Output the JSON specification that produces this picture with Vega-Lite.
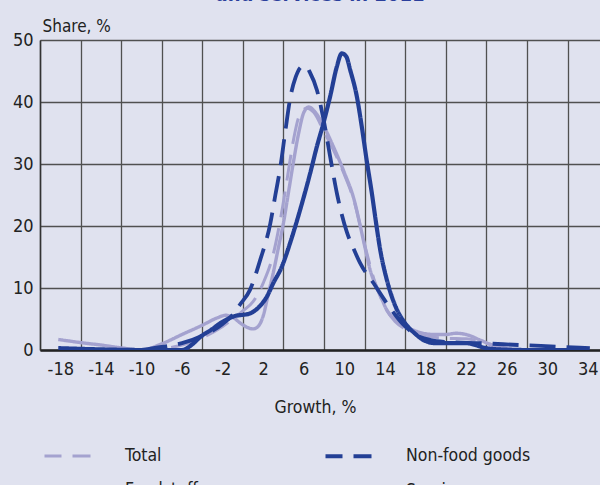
{
  "$schema": "https://vega.github.io/schema/vega-lite/v6.json",
  "width": 560,
  "height": 310,
  "autosize": {"type": "none"},
  "padding": {"left": 40, "top": 40, "right": 0, "bottom": 135},
  "background": "#e0e2ef",
  "title": {
    "text": "and services in 2011",
    "anchor": "middle",
    "fontSize": 20,
    "fontWeight": "bold",
    "color": "#2b3f9c",
    "font": "DejaVu Sans Condensed, sans-serif",
    "offset": 12
  },
  "config": {
    "view": {"stroke": null},
    "font": "DejaVu Sans Condensed, sans-serif",
    "axis": {
      "labelFont": "DejaVu Sans Condensed, sans-serif",
      "titleFont": "DejaVu Sans Condensed, sans-serif",
      "labelColor": "#222222",
      "titleColor": "#222222",
      "titleFontWeight": "normal",
      "gridColor": "#505050",
      "gridWidth": 1.3,
      "gridOpacity": 1,
      "ticks": false,
      "labelFlush": false,
      "labelOverlap": false
    }
  },
  "data": {
    "values": [
      {"g": -18, "s": 0.1, "series": "Total"},
      {"g": -14, "s": 0.05, "series": "Total"},
      {"g": -10, "s": 0, "series": "Total"},
      {"g": -8, "s": 0.2, "series": "Total"},
      {"g": -6, "s": 0.8, "series": "Total"},
      {"g": -4, "s": 2.0, "series": "Total"},
      {"g": -2, "s": 3.8, "series": "Total"},
      {"g": -1, "s": 5.0, "series": "Total"},
      {"g": 0, "s": 6.3, "series": "Total"},
      {"g": 1, "s": 7.8, "series": "Total"},
      {"g": 2, "s": 10.8, "series": "Total"},
      {"g": 3, "s": 15.5, "series": "Total"},
      {"g": 3.8, "s": 22, "series": "Total"},
      {"g": 4.4, "s": 28, "series": "Total"},
      {"g": 5, "s": 34, "series": "Total"},
      {"g": 5.5, "s": 37.5, "series": "Total"},
      {"g": 6.3, "s": 39.0, "series": "Total"},
      {"g": 7, "s": 38.3, "series": "Total"},
      {"g": 8, "s": 35.2, "series": "Total"},
      {"g": 9, "s": 32, "series": "Total"},
      {"g": 10, "s": 28.3, "series": "Total"},
      {"g": 11, "s": 23.8, "series": "Total"},
      {"g": 12, "s": 17, "series": "Total"},
      {"g": 13, "s": 11, "series": "Total"},
      {"g": 14, "s": 7, "series": "Total"},
      {"g": 15, "s": 4.6, "series": "Total"},
      {"g": 16, "s": 3.4, "series": "Total"},
      {"g": 18, "s": 2.2, "series": "Total"},
      {"g": 20, "s": 1.9, "series": "Total"},
      {"g": 22, "s": 1.8, "series": "Total"},
      {"g": 24, "s": 1.1, "series": "Total"},
      {"g": 26, "s": 0.3, "series": "Total"},
      {"g": 28, "s": 0.05, "series": "Total"},
      {"g": 30, "s": 0, "series": "Total"},

      {"g": -18.2, "s": 1.7, "series": "Foodstuffs"},
      {"g": -16, "s": 1.2, "series": "Foodstuffs"},
      {"g": -14, "s": 0.8, "series": "Foodstuffs"},
      {"g": -12, "s": 0.35, "series": "Foodstuffs"},
      {"g": -10, "s": 0, "series": "Foodstuffs"},
      {"g": -8, "s": 1.0, "series": "Foodstuffs"},
      {"g": -6, "s": 2.5, "series": "Foodstuffs"},
      {"g": -4, "s": 4.0, "series": "Foodstuffs"},
      {"g": -2.5, "s": 5.2, "series": "Foodstuffs"},
      {"g": -1.7, "s": 5.6, "series": "Foodstuffs"},
      {"g": -1, "s": 5.3, "series": "Foodstuffs"},
      {"g": -0.3, "s": 4.4, "series": "Foodstuffs"},
      {"g": 0.5, "s": 3.6, "series": "Foodstuffs"},
      {"g": 1.0, "s": 3.4, "series": "Foodstuffs"},
      {"g": 1.5, "s": 3.8, "series": "Foodstuffs"},
      {"g": 2, "s": 5.5, "series": "Foodstuffs"},
      {"g": 2.5, "s": 9, "series": "Foodstuffs"},
      {"g": 3, "s": 12.5, "series": "Foodstuffs"},
      {"g": 3.5, "s": 16.5, "series": "Foodstuffs"},
      {"g": 4, "s": 20.5, "series": "Foodstuffs"},
      {"g": 4.5, "s": 25.5, "series": "Foodstuffs"},
      {"g": 5, "s": 30.5, "series": "Foodstuffs"},
      {"g": 5.5, "s": 35, "series": "Foodstuffs"},
      {"g": 6, "s": 38.3, "series": "Foodstuffs"},
      {"g": 6.5, "s": 39.2, "series": "Foodstuffs"},
      {"g": 7, "s": 38.6, "series": "Foodstuffs"},
      {"g": 8, "s": 36, "series": "Foodstuffs"},
      {"g": 9, "s": 32.5, "series": "Foodstuffs"},
      {"g": 10, "s": 28.6, "series": "Foodstuffs"},
      {"g": 11, "s": 24, "series": "Foodstuffs"},
      {"g": 11.5, "s": 20.5, "series": "Foodstuffs"},
      {"g": 12, "s": 16.8, "series": "Foodstuffs"},
      {"g": 12.5, "s": 13.2, "series": "Foodstuffs"},
      {"g": 13.5, "s": 9, "series": "Foodstuffs"},
      {"g": 14.2, "s": 6.4, "series": "Foodstuffs"},
      {"g": 15.2, "s": 4.6, "series": "Foodstuffs"},
      {"g": 16.8, "s": 3.2, "series": "Foodstuffs"},
      {"g": 18.8, "s": 2.5, "series": "Foodstuffs"},
      {"g": 20, "s": 2.5, "series": "Foodstuffs"},
      {"g": 21, "s": 2.7, "series": "Foodstuffs"},
      {"g": 22, "s": 2.5, "series": "Foodstuffs"},
      {"g": 23.4, "s": 1.6, "series": "Foodstuffs"},
      {"g": 25, "s": 0.5, "series": "Foodstuffs"},
      {"g": 26, "s": 0.1, "series": "Foodstuffs"},
      {"g": 28, "s": 0, "series": "Foodstuffs"},

      {"g": -10, "s": 0, "series": "Non-food goods"},
      {"g": -8, "s": 0.5, "series": "Non-food goods"},
      {"g": -6, "s": 1.1, "series": "Non-food goods"},
      {"g": -4, "s": 2.3, "series": "Non-food goods"},
      {"g": -2, "s": 4.2, "series": "Non-food goods"},
      {"g": -1, "s": 5.7, "series": "Non-food goods"},
      {"g": -0.3, "s": 7.3, "series": "Non-food goods"},
      {"g": 0.7, "s": 9.7, "series": "Non-food goods"},
      {"g": 1.7, "s": 14.5, "series": "Non-food goods"},
      {"g": 2.7, "s": 20.4, "series": "Non-food goods"},
      {"g": 3.2, "s": 25, "series": "Non-food goods"},
      {"g": 3.7, "s": 29.6, "series": "Non-food goods"},
      {"g": 4.2, "s": 35.5, "series": "Non-food goods"},
      {"g": 4.65, "s": 40.5, "series": "Non-food goods"},
      {"g": 5.2, "s": 44, "series": "Non-food goods"},
      {"g": 5.8, "s": 45.7, "series": "Non-food goods"},
      {"g": 6.2, "s": 45.8, "series": "Non-food goods"},
      {"g": 6.6, "s": 44.8, "series": "Non-food goods"},
      {"g": 7.3, "s": 41.9, "series": "Non-food goods"},
      {"g": 7.9, "s": 37.6, "series": "Non-food goods"},
      {"g": 8.6, "s": 31.2, "series": "Non-food goods"},
      {"g": 9.3, "s": 25, "series": "Non-food goods"},
      {"g": 10.25, "s": 19, "series": "Non-food goods"},
      {"g": 11, "s": 16, "series": "Non-food goods"},
      {"g": 11.56, "s": 14, "series": "Non-food goods"},
      {"g": 12.87, "s": 10.8, "series": "Non-food goods"},
      {"g": 14.2, "s": 7.5, "series": "Non-food goods"},
      {"g": 16, "s": 3.8, "series": "Non-food goods"},
      {"g": 17, "s": 2.5, "series": "Non-food goods"},
      {"g": 18.5, "s": 1.6, "series": "Non-food goods"},
      {"g": 20, "s": 1.3, "series": "Non-food goods"},
      {"g": 23.4, "s": 1.1, "series": "Non-food goods"},
      {"g": 27.3, "s": 0.8, "series": "Non-food goods"},
      {"g": 31.6, "s": 0.5, "series": "Non-food goods"},
      {"g": 34.2, "s": 0.3, "series": "Non-food goods"},

      {"g": -18.2, "s": 0.3, "series": "Services"},
      {"g": -14, "s": 0.1, "series": "Services"},
      {"g": -10, "s": 0, "series": "Services"},
      {"g": -6, "s": 0, "series": "Services"},
      {"g": -5, "s": 0.9, "series": "Services"},
      {"g": -4.2, "s": 2.1, "series": "Services"},
      {"g": -3, "s": 3.4, "series": "Services"},
      {"g": -2.25, "s": 4.3, "series": "Services"},
      {"g": -0.94, "s": 5.4, "series": "Services"},
      {"g": 0.7, "s": 5.9, "series": "Services"},
      {"g": 1.5, "s": 6.8, "series": "Services"},
      {"g": 2.36, "s": 8.6, "series": "Services"},
      {"g": 3, "s": 10.8, "series": "Services"},
      {"g": 3.83, "s": 13.4, "series": "Services"},
      {"g": 4.7, "s": 17.5, "series": "Services"},
      {"g": 5.64, "s": 22.6, "series": "Services"},
      {"g": 6.63, "s": 28.5, "series": "Services"},
      {"g": 7.29, "s": 32.8, "series": "Services"},
      {"g": 7.94, "s": 36.6, "series": "Services"},
      {"g": 8.6, "s": 40.9, "series": "Services"},
      {"g": 9.26, "s": 45.7, "series": "Services"},
      {"g": 9.75, "s": 47.85, "series": "Services"},
      {"g": 10.2, "s": 47.3, "series": "Services"},
      {"g": 10.57, "s": 45.2, "series": "Services"},
      {"g": 11.23, "s": 40.9, "series": "Services"},
      {"g": 11.72, "s": 36, "series": "Services"},
      {"g": 12.2, "s": 30.6, "series": "Services"},
      {"g": 12.71, "s": 25.3, "series": "Services"},
      {"g": 13.1, "s": 20.8, "series": "Services"},
      {"g": 13.53, "s": 16.2, "series": "Services"},
      {"g": 14.19, "s": 11.3, "series": "Services"},
      {"g": 15, "s": 7.2, "series": "Services"},
      {"g": 16, "s": 4.3, "series": "Services"},
      {"g": 17, "s": 2.6, "series": "Services"},
      {"g": 17.8, "s": 1.6, "series": "Services"},
      {"g": 19, "s": 1.1, "series": "Services"},
      {"g": 20.1, "s": 1.1, "series": "Services"},
      {"g": 22, "s": 1.1, "series": "Services"},
      {"g": 24, "s": 0.3, "series": "Services"},
      {"g": 26, "s": 0.05, "series": "Services"},
      {"g": 28, "s": 0, "series": "Services"},
      {"g": 34, "s": 0, "series": "Services"}
    ]
  },
  "mark": {"type": "line", "interpolate": "monotone", "clip": true},
  "encoding": {
    "x": {
      "field": "g",
      "type": "quantitative",
      "scale": {"domain": [-20, 35.2], "nice": false, "zero": false},
      "axis": {
        "values": [-20, -16, -12, -8, -4, 0, 4, 8, 12, 16, 20, 24, 28, 32],
        "labelExpr": "'' + (datum.value + 2)",
        "labelOffset": 20.3,
        "labelFontSize": 18,
        "labelPadding": 10,
        "labelBaseline": "top",
        "domainColor": "#222222",
        "domainWidth": 2.5,
        "title": "Growth, %",
        "titleFontSize": 17.5,
        "titleBaseline": "alphabetic",
        "titleX": 275,
        "titleY": 62,
        "titleAnchor": "middle"
      }
    },
    "y": {
      "field": "s",
      "type": "quantitative",
      "scale": {"domain": [0, 50], "nice": false},
      "axis": {
        "values": [0, 10, 20, 30, 40, 50],
        "labelFontSize": 18,
        "labelPadding": 7,
        "domainColor": "#333333",
        "domainWidth": 1.5,
        "title": "Share, %",
        "titleFontSize": 17,
        "titleAngle": 0,
        "titleAlign": "left",
        "titleBaseline": "alphabetic",
        "titleX": 2,
        "titleY": -9
      }
    },
    "color": {
      "field": "series",
      "type": "nominal",
      "scale": {
        "domain": ["Total", "Foodstuffs", "Non-food goods", "Services"],
        "range": ["#a4a2cf", "#a4a2cf", "#233f95", "#233f95"]
      },
      "legend": {
        "orient": "none",
        "legendX": 2,
        "legendY": 391,
        "columns": 2,
        "columnPadding": 110,
        "rowPadding": -2,
        "padding": 0,
        "title": null,
        "symbolType": "stroke",
        "symbolSize": 2116,
        "symbolStrokeWidth": 4.5,
        "symbolDashOffset": 9,
        "labelFontSize": 17.5,
        "labelColor": "#222222",
        "labelOffset": 32,
        "labelFont": "DejaVu Sans Condensed, sans-serif"
      }
    },
    "strokeDash": {
      "field": "series",
      "type": "nominal",
      "scale": {
        "domain": ["Total", "Foodstuffs", "Non-food goods", "Services"],
        "range": [[26, 11], [1, 0], [26, 11], [1, 0]]
      },
      "legend": null
    },
    "strokeWidth": {
      "field": "series",
      "type": "nominal",
      "scale": {
        "domain": ["Total", "Foodstuffs", "Non-food goods", "Services"],
        "range": [3, 4.2, 3, 4]
      },
      "legend": null
    },
    "order": {"field": "series"}
  }
}
